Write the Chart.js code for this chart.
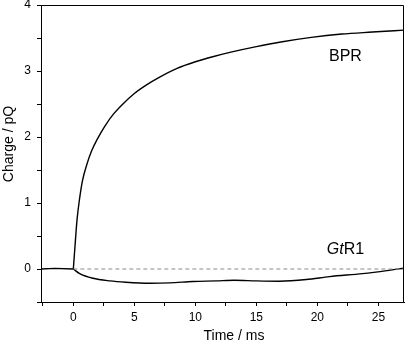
<!DOCTYPE html>
<html>
<head>
<meta charset="utf-8">
<script src="https://cdn.jsdelivr.net/npm/chart.js@4/dist/chart.umd.min.js"></script>
<style>
html,body{margin:0;padding:0;background:#fff;}
#wrap{width:409px;height:344px;}
</style>
</head>
<body>
<div id="wrap"><canvas id="c" width="409" height="344"></canvas></div>
<script>
// ---- data ----
const baseX = [-2.7, -1.5, 0];
const baseY = [0, 0.01, 0];

const bprX = [0, 0.13, 0.3, 0.5, 0.75, 1.1, 1.5, 2.0, 2.6, 3.3, 4.0, 5.0, 6.0, 7.0, 8.5, 10, 11.5, 13, 15, 17, 19.5, 22, 24.5, 27.2];
const bprY = [0, 0.33, 0.74, 1.05, 1.34, 1.58, 1.79, 1.98, 2.17, 2.35, 2.49, 2.66, 2.79, 2.90, 3.04, 3.14, 3.22, 3.29, 3.37, 3.44, 3.51, 3.56, 3.59, 3.62];

const gtrX = [0, 0.52, 1.6, 3.0, 4.3, 6.25, 7.9, 9.8, 11.7, 13.2, 15.0, 16.9, 19.1, 21.0, 23.7, 25.7, 27.2];
const gtrY = [0, -0.07, -0.14, -0.18, -0.20, -0.215, -0.21, -0.19, -0.18, -0.17, -0.18, -0.185, -0.16, -0.115, -0.07, -0.025, 0.015];

const zeroX = [0, 27.2];
const zeroY = [0, 0];

const xLabel = "Time / ms";
const yLabel = "Charge / pQ";
const bprName = "BPR";
const gtrItalic = "Gt";
const gtrRest = "R1";

const pts = (xs, ys) => xs.map((x, i) => ({x: x, y: ys[i]}));
const FONT = "'Liberation Sans', Arial, sans-serif";

const decor = {
  id: 'decor',
  afterDraw(chart) {
    const ctx = chart.ctx, a = chart.chartArea;
    const xs = chart.scales.x, ys = chart.scales.y;
    ctx.save();
    ctx.strokeStyle = '#000';
    ctx.lineWidth = 1;
    ctx.beginPath();
    ctx.moveTo(a.left, a.top + 0.5);
    ctx.lineTo(a.right - 0.5, a.top + 0.5);
    ctx.lineTo(a.right - 0.5, a.bottom);
    ctx.stroke();
    ctx.fillStyle = '#000';
    // axis titles
    ctx.font = '14px ' + FONT;
    ctx.textAlign = 'center';
    ctx.textBaseline = 'middle';
    ctx.fillText(xLabel, a.left + 193, 336);
    ctx.save();
    ctx.translate(9, a.top + 139);
    ctx.rotate(-Math.PI / 2);
    ctx.fillText(yLabel, 0, 0);
    ctx.restore();
    // series labels
    ctx.font = '16px ' + FONT;
    ctx.textAlign = 'center';
    ctx.fillText(bprName, xs.getPixelForValue(22.3), ys.getPixelForValue(3.22));
    const wI = (ctx.font = 'italic 16px ' + FONT, ctx.measureText(gtrItalic).width);
    const wR = (ctx.font = '16px ' + FONT, ctx.measureText(gtrRest).width);
    const cx = xs.getPixelForValue(22.3), cy = ys.getPixelForValue(0.30);
    const x0 = cx - (wI + wR) / 2;
    ctx.textAlign = 'left';
    ctx.font = 'italic 16px ' + FONT;
    ctx.fillText(gtrItalic, x0, cy);
    ctx.font = '16px ' + FONT;
    ctx.fillText(gtrRest, x0 + wI, cy);
    ctx.restore();
  }
};

new Chart(document.getElementById('c'), {
  type: 'line',
  data: {
    datasets: [
      {data: pts(zeroX, zeroY), borderColor: '#8a8a8a', borderWidth: 1, borderDash: [4, 3], pointRadius: 0, tension: 0},
      {data: pts(baseX, baseY), borderColor: '#000', borderWidth: 1.4, pointRadius: 0, tension: 0},
      {data: pts(bprX, bprY), borderColor: '#000', borderWidth: 1.4, pointRadius: 0, cubicInterpolationMode: 'monotone'},
      {data: pts(gtrX, gtrY), borderColor: '#000', borderWidth: 1.4, pointRadius: 0, cubicInterpolationMode: 'monotone'}
    ]
  },
  options: {
    responsive: false,
    animation: false,
    layout: {padding: {top: 5, right: 5, left: 0, bottom: 0}},
    plugins: {legend: {display: false}, tooltip: {enabled: false}},
    scales: {
      x: {
        type: 'linear', min: -2.65, max: 27.1,
        afterFit(s) { s.height = 42; s.paddingLeft = 0; s.paddingRight = 0; },
        border: {display: true, color: '#000', width: 1},
        grid: {display: true, drawOnChartArea: false, drawTicks: true, tickLength: 4, color: '#000'},
        ticks: {
          stepSize: 2.5, includeBounds: false, autoSkip: false, maxRotation: 0, padding: 4,
          color: '#000', font: {family: FONT, size: 12},
          callback: v => (Math.abs(v % 5) < 1e-6 ? String(v) : '')
        }
      },
      y: {
        type: 'linear', min: -0.5, max: 4,
        afterFit(s) { s.width = 41; s.paddingTop = 0; s.paddingBottom = 0; },
        border: {display: true, color: '#000', width: 1},
        grid: {display: true, drawOnChartArea: false, drawTicks: true, tickLength: 4, color: '#000'},
        ticks: {
          stepSize: 0.5, autoSkip: false, padding: 6,
          color: '#000', font: {family: FONT, size: 12},
          callback: v => (Math.abs(v % 1) < 1e-6 ? String(v) : '')
        }
      }
    }
  },
  plugins: [decor]
});
</script>
</body>
</html>
